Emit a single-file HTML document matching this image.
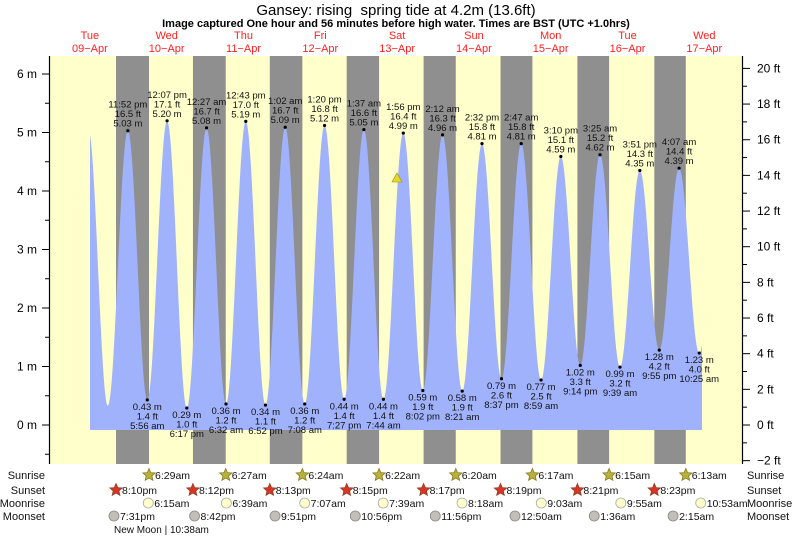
<!DOCTYPE html>
<html><head><meta charset="utf-8">
<style>
body{margin:0;background:#fff;}
svg{display:block;font-family:"Liberation Sans",sans-serif;}
</style></head>
<body>
<svg id="s" width="793" height="537" xmlns="http://www.w3.org/2000/svg">
<rect x="0" y="0" width="793" height="537" fill="#fff"/>
<rect x="50" y="56" width="692" height="408" fill="#ffffcc"/>
<g id="bands"></g>
<path id="tide" fill="#a0b2fc" d=""/>
<g id="lbl" font-size="9.5" fill="#111" text-anchor="middle"></g>
<g id="axes"></g>
<polygon points="392,182 402,182 397,173" fill="#e6d72a" stroke="#9a8f10" stroke-width="0.6"/>
<text x="396" y="15" font-size="15" text-anchor="middle" fill="#000">Gansey: rising &#160;spring tide at 4.2m (13.6ft)</text>
<text x="396" y="27" font-size="11" font-weight="bold" text-anchor="middle" fill="#000">Image captured One hour and 56 minutes before high water. Times are BST (UTC +1.0hrs)</text>
<g id="days" font-size="11" fill="#ff2020" text-anchor="middle"></g>
<g id="bottom" font-size="11" fill="#111"></g>
</svg>
<script>
var NS="http://www.w3.org/2000/svg";
function el(p,t,a,txt){var e=document.createElementNS(NS,t);for(var k in a)e.setAttribute(k,a[k]);if(txt!==undefined)e.textContent=txt;document.getElementById(p).appendChild(e);return e;}
var X0=51.5,PH=3.2;
function X(d,h,m){return X0+(d-9)*76.8+(h+m/60)*PH;}
function Y(v){return 425-v*58.5;}
var ss=[[9,20,10],[10,20,12],[11,20,13],[12,20,15],[13,20,17],[14,20,19],[15,20,21],[16,20,23]];
var sr=[[10,6,29],[11,6,27],[12,6,24],[13,6,22],[14,6,20],[15,6,17],[16,6,15],[17,6,13]];
for(var i=0;i<8;i++){var a=X(ss[i][0],ss[i][1],ss[i][2]),b=X(sr[i][0],sr[i][1],sr[i][2]);el("bands","rect",{x:a,y:56,width:b-a,height:408,fill:"#8f8f8f"});}
function t(d,s){var p=s.match(/(\d+):(\d+)(am|pm)/);var h=+p[1]%12;if(p[3]=="pm")h+=12;return X(d,h,+p[2]);}
var ex=[
[9,"11:52pm",5.03,16.5,"11:52 pm",1],[10,"5:56am",0.43,1.4,"5:56 am",0],[10,"12:07pm",5.20,17.1,"12:07 pm",1],[10,"6:17pm",0.29,1.0,"6:17 pm",0],
[11,"12:27am",5.08,16.7,"12:27 am",1],[11,"6:32am",0.36,1.2,"6:32 am",0],[11,"12:43pm",5.19,17.0,"12:43 pm",1],[11,"6:52pm",0.34,1.1,"6:52 pm",0],
[12,"1:02am",5.09,16.7,"1:02 am",1],[12,"7:08am",0.36,1.2,"7:08 am",0],[12,"1:20pm",5.12,16.8,"1:20 pm",1],[12,"7:27pm",0.44,1.4,"7:27 pm",0],
[13,"1:37am",5.05,16.6,"1:37 am",1],[13,"7:44am",0.44,1.4,"7:44 am",0],[13,"1:56pm",4.99,16.4,"1:56 pm",1],[13,"8:02pm",0.59,1.9,"8:02 pm",0],
[14,"2:12am",4.96,16.3,"2:12 am",1],[14,"8:21am",0.58,1.9,"8:21 am",0],[14,"2:32pm",4.81,15.8,"2:32 pm",1],[14,"8:37pm",0.79,2.6,"8:37 pm",0],
[15,"2:47am",4.81,15.8,"2:47 am",1],[15,"8:59am",0.77,2.5,"8:59 am",0],[15,"3:10pm",4.59,15.1,"3:10 pm",1],[15,"9:14pm",1.02,3.3,"9:14 pm",0],
[16,"3:25am",4.62,15.2,"3:25 am",1],[16,"9:39am",0.99,3.2,"9:39 am",0],[16,"3:51pm",4.35,14.3,"3:51 pm",1],[16,"9:55pm",1.28,4.2,"9:55 pm",0],
[17,"4:07am",4.39,14.4,"4:07 am",1],[17,"10:25am",1.23,4.0,"10:25 am",0]];
var pts=[[X(9,11,30),5.05],[X(9,17,35),0.33]];
ex.forEach(function(e){pts.push([t(e[0],e[1]),e[2]]);});
pts.push([X(17,16,40),4.1]);
function val(x){for(var i=0;i<pts.length-1;i++){if(x>=pts[i][0]&&x<=pts[i+1][0]){var f=(x-pts[i][0])/(pts[i+1][0]-pts[i][0]);return pts[i][1]+(pts[i+1][1]-pts[i][1])*(1-Math.cos(Math.PI*f))/2;}}return 0;}
var xs=90,xe=702,d="M"+xs+",430";
for(var x=xs;x<=xe;x+=0.5){d+=" L"+x+","+Y(val(x)).toFixed(2);}
d+=" L"+xe+","+Y(1.65)+" L"+xe+",430 Z";
document.getElementById("tide").setAttribute("d",d);
ex.forEach(function(e){var x=t(e[0],e[1]),y=Y(e[2]);
el("lbl","circle",{cx:x,cy:y,r:1.6,fill:"#000"});
if(e[5]){el("lbl","text",{x:x,y:y-4},e[2].toFixed(2)+" m");el("lbl","text",{x:x,y:y-13.5},e[3].toFixed(1)+" ft");el("lbl","text",{x:x,y:y-23},e[4]);}
else{el("lbl","text",{x:x,y:y+10},e[2].toFixed(2)+" m");el("lbl","text",{x:x,y:y+19.5},e[3].toFixed(1)+" ft");el("lbl","text",{x:x,y:y+29},e[4]);}
});
el("axes","line",{x1:49.5,y1:56,x2:49.5,y2:464,stroke:"#000","stroke-width":1.2});
el("axes","line",{x1:742.5,y1:56,x2:742.5,y2:464,stroke:"#000","stroke-width":1.2});
for(var v=-0.5;v<=6.01;v+=0.5){var y=Y(v),maj=Math.abs(v-Math.round(v))<0.01;
el("axes","line",{x1:maj?42:45,y1:y,x2:49,y2:y,stroke:"#000"});
if(maj)el("axes","text",{x:37,y:y+4,"font-size":12,"text-anchor":"end"},Math.round(v)+" m");}
for(var f=-2;f<=20;f++){var y=425-f*17.83;
el("axes","line",{x1:743,y1:y,x2:f%2==0?750:747,y2:y,stroke:"#000"});
if(f%2==0)el("axes","text",{x:757,y:y+4,"font-size":12},(f<0?"\u22122":f)+" ft");}
var dn=["Tue","Wed","Thu","Fri","Sat","Sun","Mon","Tue","Wed"];
for(var i=0;i<9;i++){var x=X(9+i,12,0);el("days","text",{x:x,y:39},dn[i]);el("days","text",{x:x,y:52},(9+i<10?"0":"")+(9+i)+"\u2212Apr");}
var rows=["Sunrise","Sunset","Moonrise","Moonset"],ry=[475,490,503,516];
for(var i=0;i<4;i++){el("bottom","text",{x:45,y:ry[i]+4,"text-anchor":"end","font-size":11},rows[i]);el("bottom","text",{x:747,y:ry[i]+4,"font-size":11},rows[i]);}
function star(x,y,c,s){var p="";for(var k=0;k<10;k++){var r=k%2?3:6.5,a=-Math.PI/2+k*Math.PI/5;p+=(x+r*Math.cos(a)).toFixed(1)+","+(y+r*Math.sin(a)).toFixed(1)+" ";}el("bottom","polygon",{points:p,fill:c,stroke:s,"stroke-width":0.8});}
function lab(x,y,s){el("bottom","text",{x:x+6,y:y+4,"font-size":10.5},s);}
var srl=["6:29am","6:27am","6:24am","6:22am","6:20am","6:17am","6:15am","6:13am"];
for(var i=0;i<8;i++){var x=X(sr[i][0],sr[i][1],sr[i][2]);star(x,475,"#b8b23a","#8a7a20");lab(x,475,srl[i]);}
var ssl=["8:10pm","8:12pm","8:13pm","8:15pm","8:17pm","8:19pm","8:21pm","8:23pm"];
for(var i=0;i<8;i++){var x=X(ss[i][0],ss[i][1],ss[i][2]);star(x,490,"#d8342a","#904020");lab(x,490,ssl[i]);}
var mr=[[10,"6:15am"],[11,"6:39am"],[12,"7:07am"],[13,"7:39am"],[14,"8:18am"],[15,"9:03am"],[16,"9:55am"],[17,"10:53am"]];
mr.forEach(function(m){var x=t(m[0],m[1]);el("bottom","circle",{cx:x,cy:503,r:5,fill:"#ffffcc",stroke:"#aaa","stroke-width":0.8});lab(x,503,m[1]);});
var ms=[[9,"7:31pm"],[10,"8:42pm"],[11,"9:51pm"],[12,"10:56pm"],[13,"11:56pm"],[15,"12:50am"],[16,"1:36am"],[17,"2:15am"]];
ms.forEach(function(m){var x=t(m[0],m[1]);el("bottom","circle",{cx:x,cy:516,r:5,fill:"#c0c0b8",stroke:"#888","stroke-width":0.8});lab(x,516,m[1]);});
el("bottom","text",{x:114,y:533,"font-size":10},"New Moon | 10:38am");
</script>
</body></html>
